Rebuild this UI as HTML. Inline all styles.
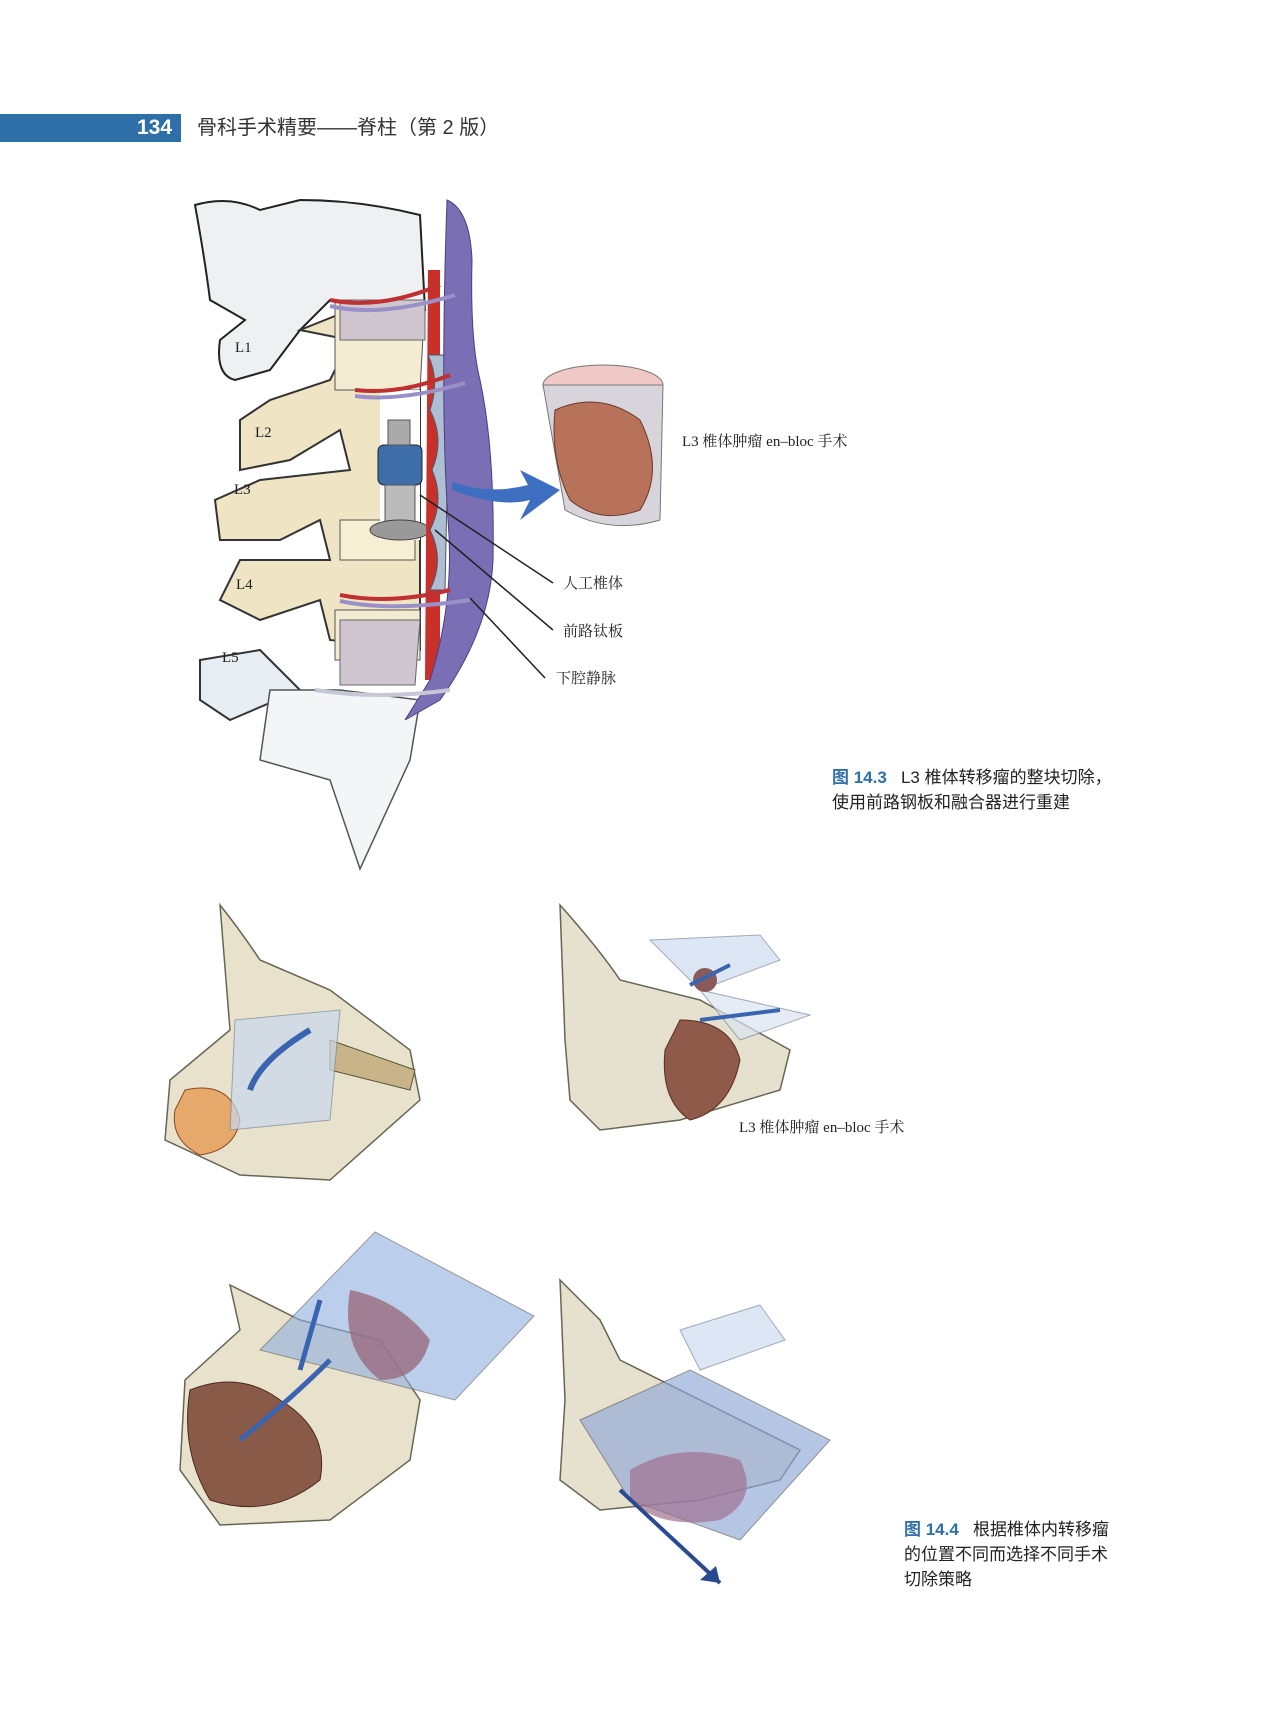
<!DOCTYPE html>
<html><head><meta charset="utf-8"><style>
html,body{margin:0;padding:0;background:#fff}
body{width:1276px;height:1719px;position:relative;overflow:hidden;font-family:"Liberation Sans","Noto Sans CJK SC",sans-serif;color:#222}
.t{position:absolute;white-space:nowrap}
</style></head><body>
<div style="position:absolute;left:0;top:114px;width:181px;height:28px;background:#2e6fa7"></div>
<div class="t" style="left:137px;top:114px;font-size:21px;font-weight:bold;color:#fff;line-height:28px">134</div>
<div class="t" style="left:197px;top:114px;font-size:20px;line-height:28px;color:#333">骨科手术精要——脊柱（第 2 版）</div>

<svg style="position:absolute;left:0;top:0" width="1276" height="1719">
<g stroke="#222" stroke-width="2" fill="#eef0f2">
<path d="M195 205 Q230 195 260 210 L300 200 Q360 200 420 215 L425 310 L330 300 L300 330 L270 370 L235 380 Q215 375 220 340 L245 320 L210 300 Q205 260 195 205Z"/>
</g>
<g stroke="#333" stroke-width="2" fill="#efe5c4">
<path d="M300 330 L350 340 L330 380 L270 400 L240 420 L240 470 L290 460 L340 430 L350 470 L260 480 L215 500 L220 540 L280 540 L320 520 L330 560 L240 560 L220 600 L260 620 L320 600 L330 640 L420 650 L420 320 L350 310Z"/>
</g>
<path d="M340 520 L415 520 L415 560 L340 560Z" fill="#f7efd4" stroke="#555"/>
<path d="M335 300 L425 300 L420 390 L335 390Z" fill="#f4ecd2" stroke="#555"/>
<path d="M340 300 L425 300 L425 340 L340 340Z" fill="#cfc6cf" stroke="#666"/>
<path d="M335 610 L420 610 L420 660 L335 660Z" fill="#f4ecd2" stroke="#555"/>
<path d="M340 620 L420 620 L415 685 L340 685Z" fill="#cfc6cf" stroke="#666"/>
<path d="M200 660 L260 650 L300 690 L230 720 L200 700Z" fill="#e6eef4" stroke="#333" stroke-width="2"/>
<path d="M270 690 L340 690 L420 700 L410 760 L360 869 L330 780 L260 760Z" fill="#f3f5f7" stroke="#555" stroke-width="1.5"/>
<rect x="380" y="390" width="40" height="150" fill="#fff"/>
<rect x="378" y="445" width="44" height="40" rx="6" fill="#3d6ea8" stroke="#223"/>
<rect x="388" y="420" width="22" height="25" fill="#aaa" stroke="#555"/>
<rect x="385" y="485" width="30" height="40" fill="#bbb" stroke="#555"/>
<ellipse cx="400" cy="530" rx="30" ry="10" fill="#999" stroke="#444"/>
<path d="M428 270 L440 270 L440 680 L425 680Z" fill="#c8302a"/>
<path d="M428 355 Q440 380 430 410 Q445 440 432 470 Q445 500 430 530 Q445 560 430 590 L445 590 L450 355Z" fill="#aebfd4" stroke="#556"/>
<path d="M447 200 Q470 210 472 260 Q470 340 480 380 Q495 450 493 560 Q490 630 440 700 L405 720 L430 680 Q455 600 448 520 Q440 400 447 200Z" fill="#7a6eb5" stroke="#4a3f85"/>
<g stroke-width="4" fill="none">
<path d="M330 300 Q380 310 440 285" stroke="#c03030"/><path d="M330 306 Q380 318 455 295" stroke="#9a90c8"/>
<path d="M355 390 Q400 395 450 375" stroke="#c03030"/><path d="M355 396 Q400 402 465 383" stroke="#9a90c8"/>
<path d="M340 595 Q390 605 450 590" stroke="#c03030"/><path d="M340 601 Q390 612 470 600" stroke="#9a90c8"/>
<path d="M315 690 Q380 700 450 690" stroke="#c6c8d6"/>
</g>
<path d="M452 490 Q500 508 530 500 L520 520 L560 490 L520 470 L528 485 Q490 495 452 482Z" fill="#3d6ec0"/>
<g stroke="#222" stroke-width="1.5"><line x1="420" y1="495" x2="553" y2="583"/><line x1="435" y1="530" x2="553" y2="630"/><line x1="470" y1="598" x2="545" y2="678"/></g>
<ellipse cx="603" cy="385" rx="60" ry="20" fill="#f0c8c6" stroke="#777"/>
<path d="M543 385 L663 385 L660 520 Q610 535 565 510Z" fill="#d8d4dc" stroke="#777"/>
<path d="M555 410 Q600 390 640 420 Q665 470 640 510 Q600 525 570 500 Q550 460 555 410Z" fill="#b8725a" stroke="#6a3a2a"/>
<path d="M220 905 Q240 930 260 960 L330 990 L410 1050 L420 1100 L330 1180 L240 1175 L165 1140 L170 1080 L230 1030 Z" fill="#e8e2cc" stroke="#665" stroke-width="1.5"/>
<path d="M330 1040 L415 1070 L410 1090 L330 1070Z" fill="#c9b48a" stroke="#553"/>
<path d="M185 1090 Q230 1080 240 1120 Q235 1150 200 1155 Q170 1140 175 1110Z" fill="#e7a86c" stroke="#8a4a20"/>
<path d="M235 1020 L340 1010 L330 1120 L230 1130Z" fill="#c9d8ee" opacity=".7" stroke="#789"/>
<path d="M310 1030 Q260 1060 250 1090" stroke="#3a64b0" stroke-width="6" fill="none"/>
<path d="M560 905 Q600 950 620 980 L700 1000 L790 1050 L780 1090 L680 1120 L600 1130 L570 1100 L565 1040 Z" fill="#e6e0ce" stroke="#665" stroke-width="1.5"/>
<path d="M680 1020 Q730 1020 740 1060 Q730 1110 690 1120 Q660 1100 665 1050Z" fill="#8f5a4a" stroke="#5a3020"/>
<path d="M650 940 L760 935 L780 960 L700 990Z" fill="#cfdcf0" opacity=".7" stroke="#789"/>
<path d="M700 990 L810 1015 L740 1040Z" fill="#dbe5f3" opacity=".7" stroke="#789"/>
<circle cx="705" cy="980" r="12" fill="#8a5a5a"/>
<path d="M690 985 L730 965 M700 1020 L780 1010" stroke="#3a64b0" stroke-width="4"/>
<path d="M230 1285 L300 1320 L380 1340 L420 1400 L410 1460 L330 1520 L220 1525 L180 1470 L185 1380 L240 1330Z" fill="#e8e2cc" stroke="#665" stroke-width="1.5"/>
<path d="M375 1232 L534 1316 L455 1400 L260 1350Z" fill="#8fb0e0" opacity=".6" stroke="#555"/>
<path d="M190 1390 Q240 1370 280 1400 Q330 1430 320 1480 Q270 1520 210 1500 Q180 1450 190 1390Z" fill="#8a5a48" stroke="#4a2a1a"/>
<path d="M350 1290 Q400 1300 430 1340 Q420 1380 380 1380 Q340 1350 350 1290Z" fill="#9a6a80" opacity=".8"/>
<path d="M330 1360 Q290 1400 240 1440 M300 1370 L320 1300" stroke="#3a64b0" stroke-width="5" fill="none"/>
<path d="M560 1280 L600 1320 L620 1360 L720 1410 L800 1450 L780 1480 L700 1500 L600 1510 L560 1480 L565 1400 Z" fill="#e6e0ce" stroke="#665" stroke-width="1.5"/>
<path d="M580 1420 L690 1370 L830 1440 L740 1540 L630 1500Z" fill="#8fa8d8" opacity=".65" stroke="#555"/>
<path d="M680 1330 L760 1305 L785 1340 L700 1370Z" fill="#cfdcf0" opacity=".7" stroke="#789"/>
<path d="M630 1470 Q680 1440 740 1460 Q760 1500 720 1520 Q660 1530 630 1500Z" fill="#a07090" opacity=".7"/>
<path d="M620 1490 L720 1583" stroke="#2a4a90" stroke-width="4"/>
<path d="M720 1583 L700 1580 L716 1566Z" fill="#2a4a90"/>
</svg>

<div class="t" style="left:235px;top:340px;font-size:15px;font-family:'Liberation Serif',serif">L1</div>
<div class="t" style="left:255px;top:425px;font-size:15px;font-family:'Liberation Serif',serif">L2</div>
<div class="t" style="left:234px;top:482px;font-size:15px;font-family:'Liberation Serif',serif">L3</div>
<div class="t" style="left:236px;top:577px;font-size:15px;font-family:'Liberation Serif',serif">L4</div>
<div class="t" style="left:222px;top:650px;font-size:15px;font-family:'Liberation Serif',serif">L5</div>
<div class="t" style="left:682px;top:430px;font-size:15px;font-family:'Liberation Serif','Noto Serif CJK SC',serif">L3 椎体肿瘤 en–bloc 手术</div>
<div class="t" style="left:563px;top:572px;font-size:15px;font-family:'Liberation Serif','Noto Serif CJK SC',serif">人工椎体</div>
<div class="t" style="left:563px;top:620px;font-size:15px;font-family:'Liberation Serif','Noto Serif CJK SC',serif">前路钛板</div>
<div class="t" style="left:556px;top:667px;font-size:15px;font-family:'Liberation Serif','Noto Serif CJK SC',serif">下腔静脉</div>
<div class="t" style="left:739px;top:1116px;font-size:15px;font-family:'Liberation Serif','Noto Serif CJK SC',serif">L3 椎体肿瘤 en–bloc 手术</div>

<div class="t" style="left:832px;top:765px;font-size:17px;line-height:25px"><span style="color:#2e6fa7;font-weight:bold">图 14.3</span>&nbsp;&nbsp; L3 椎体转移瘤的整块切除，<br>使用前路钢板和融合器进行重建</div>
<div class="t" style="left:904px;top:1517px;font-size:17px;line-height:25px"><span style="color:#2e6fa7;font-weight:bold">图 14.4</span>&nbsp;&nbsp; 根据椎体内转移瘤<br>的位置不同而选择不同手术<br>切除策略</div>
</body></html>
